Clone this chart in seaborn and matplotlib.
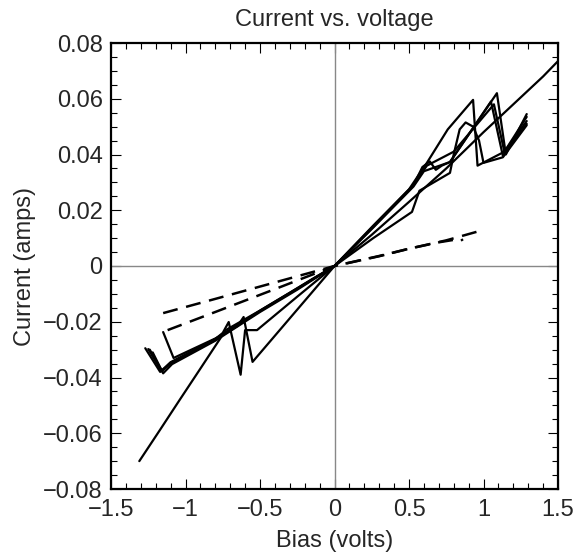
import numpy as np
import pandas as pd
import matplotlib
matplotlib.use("Agg")
import matplotlib.pyplot as plt
import seaborn as sns
from matplotlib.ticker import MultipleLocator

# smooth reference sweep
long_x = [-1.31, -1.17, -1.04, -0.90, -0.73, -0.50, -0.30, -0.15, 0, 0.25, 0.50, 0.75, 1.00, 1.25, 1.40, 1.50]
long_y = [-0.070, -0.0587, -0.0481, -0.0368, -0.023, -0.0160, -0.0096, -0.0047, 0, 0.0112, 0.023, 0.035, 0.048, 0.0605, 0.068, 0.0735]

# measured sweeps (solid)
c1_x = [-1.27, -1.17, -1.10, -0.80, -0.50, -0.25, 0, 0.26, 0.50, 0.62, 0.76, 0.93, 0.96, 1.14, 1.29]
c1_y = [-0.0295, -0.038, -0.0345, -0.0262, -0.0160, -0.0080, 0, 0.0145, 0.0275, 0.037, 0.049, 0.0596, 0.036, 0.041, 0.052]

c2_x = [-1.24, -1.16, -1.10, -0.80, -0.50, -0.25, 0, 0.26, 0.53, 0.59, 0.64, 0.68, 0.72, 0.775, 1.09, 1.15, 1.29]
c2_y = [-0.030, -0.0375, -0.035, -0.0265, -0.0162, -0.0082, 0, 0.0140, 0.0290, 0.0355, 0.0375, 0.0345, 0.036, 0.0373, 0.062, 0.040, 0.0545]

c3_x = [-1.22, -1.15, -1.09, -0.80, -0.50, -0.25, 0, 0.26, 0.52, 0.57, 0.775, 0.80, 0.84, 0.88, 0.93, 0.97, 1.00, 1.13, 1.29]
c3_y = [-0.031, -0.0385, -0.0352, -0.0268, -0.0165, -0.0085, 0, 0.010, 0.0194, 0.027, 0.0334, 0.040, 0.049, 0.0515, 0.050, 0.045, 0.037, 0.039, 0.0505]

c4_x = [-1.25, -1.16, -1.10, -0.80, -0.75, -0.71, -0.63, -0.60, -0.52, -0.25, 0, 0.26, 0.53, 0.62, 0.80, 1.07, 1.14, 1.29]
c4_y = [-0.0298, -0.0378, -0.0348, -0.0262, -0.024, -0.0201, -0.039, -0.023, -0.023, -0.0110, 0, 0.0142, 0.0290, 0.0360, 0.041, 0.058, 0.041, 0.0535]

c5_x = [-1.15, -1.08, -0.80, -0.65, -0.61, -0.55, 0, 0.26, 0.53, 0.60, 0.775, 1.05, 1.13, 1.29]
c5_y = [-0.0237, -0.033, -0.026, -0.0215, -0.0183, -0.0344, 0, 0.0138, 0.0285, 0.034, 0.0373, 0.059, 0.0395, 0.051]

# dashed sweeps
d1_x = [-1.15, -0.8, -0.4, 0, 0.3, 0.5, 0.75, 0.97]
d1_y = [-0.0169, -0.0118, -0.0059, 0, 0.0035, 0.0062, 0.0092, 0.0125]
d2_x = [-1.12, -0.8, -0.4, 0, 0.3, 0.5, 0.7, 0.85, 0.86]
d2_y = [-0.023, -0.0165, -0.0083, 0, 0.0036, 0.0062, 0.0085, 0.0098, 0.0090]

sns.set_style("ticks")
plt.rcParams['font.family'] = ['Liberation Sans', 'DejaVu Sans']

fig = plt.figure(figsize=(5.74, 5.56), dpi=100)
ax = fig.add_axes([111 / 574, 1 - 489 / 556, 447 / 574, 446 / 556])

ax.axhline(0, color="#888888", lw=1.0, zorder=1)
ax.axvline(0, color="#888888", lw=1.0, zorder=1)

solid = [(long_x, long_y), (c1_x, c1_y), (c2_x, c2_y), (c3_x, c3_y), (c4_x, c4_y), (c5_x, c5_y)]
for xs, ys in solid:
    sns.lineplot(x=xs, y=ys, sort=False, estimator=None, color="black", lw=1.6, ax=ax)

for xs, ys in [(d1_x, d1_y), (d2_x, d2_y)]:
    sns.lineplot(x=xs, y=ys, sort=False, estimator=None, color="black", lw=1.8,
                 linestyle=(0, (6, 3.5)), ax=ax)

fs = 17
ax.set_xlim(-1.5, 1.5)
ax.set_ylim(-0.08, 0.08)
xt = [-1.5, -1, -0.5, 0, 0.5, 1, 1.5]
ax.set_xticks(xt)
ax.set_xticklabels(["\u22121.5", "\u22121", "\u22120.5", "0", "0.5", "1", "1.5"])
yt = [-0.08, -0.06, -0.04, -0.02, 0, 0.02, 0.04, 0.06, 0.08]
ax.set_yticks(yt)
ax.set_yticklabels(["\u22120.08", "\u22120.06", "\u22120.04", "\u22120.02", "0", "0.02", "0.04", "0.06", "0.08"])
ax.xaxis.set_minor_locator(MultipleLocator(0.1))
ax.yaxis.set_minor_locator(MultipleLocator(0.005))
ax.tick_params(which="both", direction="in", top=True, right=True, labelsize=fs, color="black", width=0.8)
ax.tick_params(axis="y", pad=6)
ax.tick_params(axis="x", pad=7)
ax.tick_params(which="major", length=7)
ax.tick_params(which="minor", length=4)
for s in ax.spines.values():
    s.set_linewidth(1.6)
    s.set_color("black")

ax.set_xlabel("Bias (volts)", fontsize=fs, labelpad=7)
ax.set_ylabel("Current (amps)", fontsize=fs, labelpad=5)
ax.set_title("Current vs. voltage", fontsize=fs, pad=12)

fig.savefig("out.png", dpi=100)
